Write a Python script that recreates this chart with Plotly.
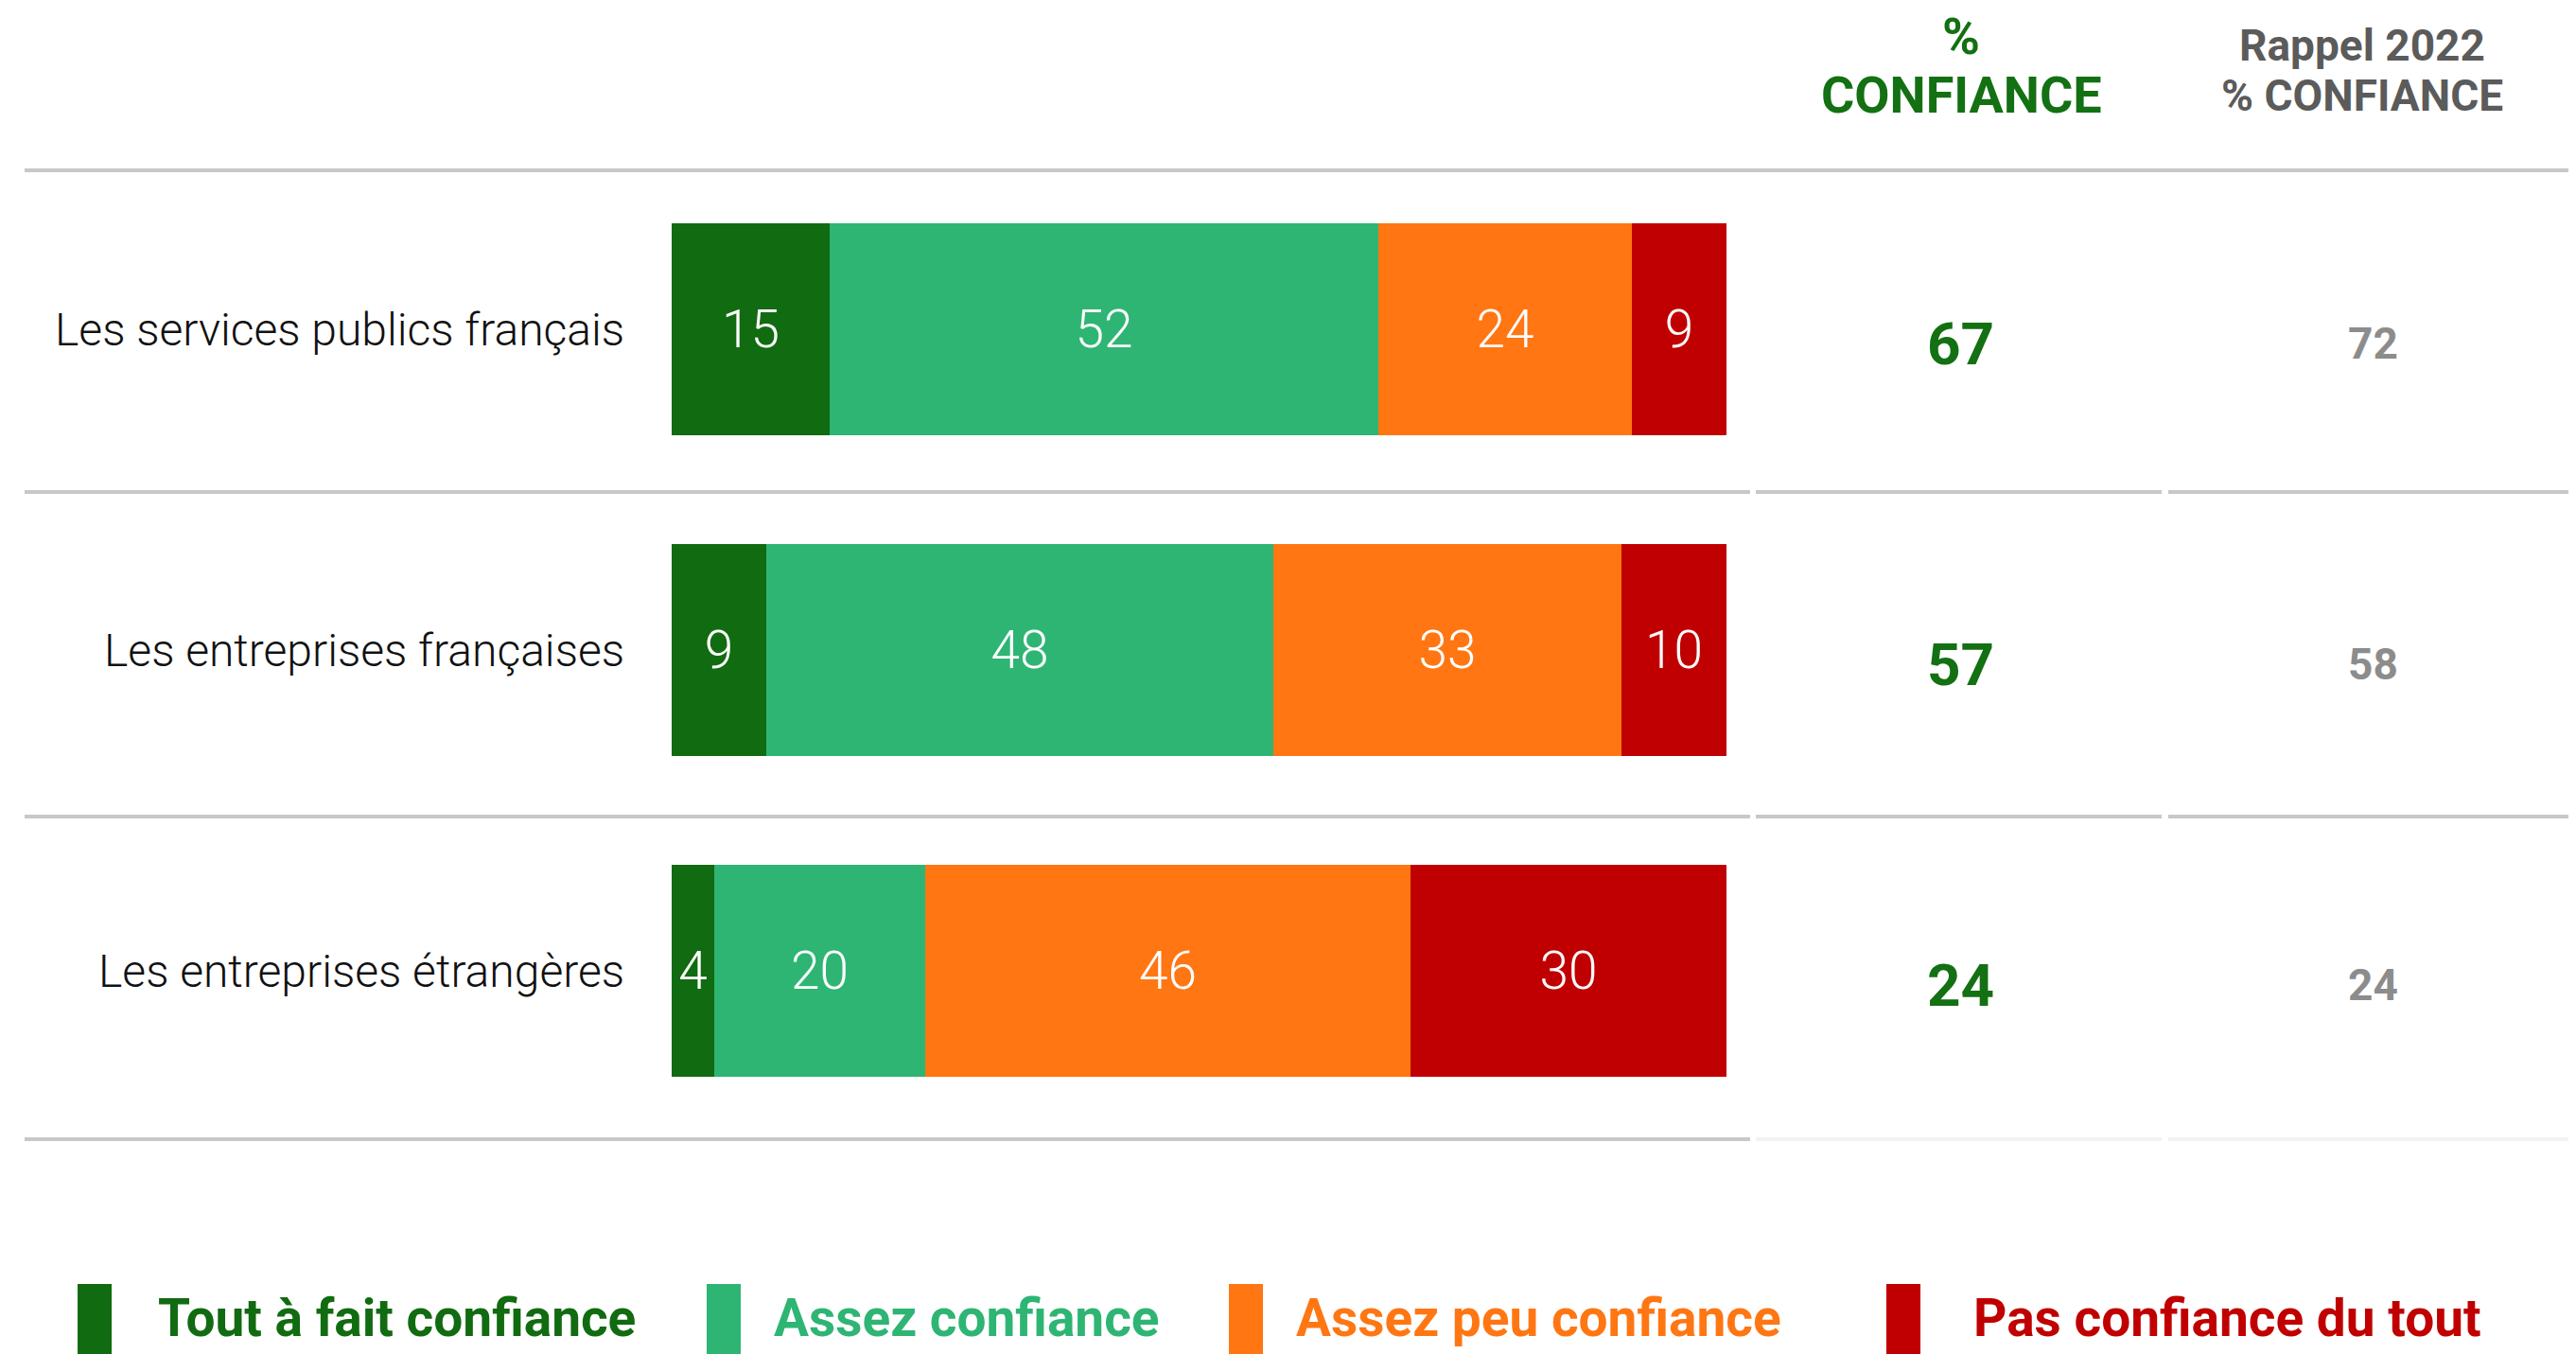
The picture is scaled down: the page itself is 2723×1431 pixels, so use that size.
import plotly.graph_objects as go

categories = ["Les services publics français", "Les entreprises françaises", "Les entreprises étrangères"]
series_names = ["Tout à fait confiance", "Assez confiance", "Assez peu confiance", "Pas confiance du tout"]
tout_a_fait = [15, 9, 4]
assez = [52, 48, 20]
assez_peu = [24, 33, 46]
pas_du_tout = [9, 10, 30]
confiance = [67, 57, 24]
rappel_2022 = [72, 58, 24]
header_conf = ["%", "CONFIANCE"]
header_rappel = ["Rappel 2022", "% CONFIANCE"]

colors = ["#116B10", "#2EB574", "#FF7613", "#C00000"]

W, H = 2723, 1431
OFF = 8  # page body margin
FW, FH = W - OFF, H - OFF
def px(x):
    return (x - OFF) / FW
def py(y):
    return 1 - (y - OFF) / FH

FONT = "Roboto"
fig = go.Figure()
for name, vals, col in zip(series_names, [tout_a_fait, assez, assez_peu, pas_du_tout], colors):
    fig.add_trace(go.Bar(
        y=categories, x=vals, name=name, orientation="h",
        marker=dict(color=col, line=dict(width=0)),
        width=0.661,
        text=vals, texttemplate="%{text}", textposition="inside",
        insidetextanchor="middle", constraintext="none", textangle=0,
        textfont=dict(family=FONT, size=55, color="white", weight=300),
        hoverinfo="skip", showlegend=False,
    ))

top_px, bot_px = 179, 1204
c0, step = 348, 339
y_top = 0 - (c0 - top_px) / step
y_bot = 2 + (bot_px - (c0 + 2 * step)) / step

fig.update_layout(
    width=FW, height=FH, margin=dict(l=0, r=0, t=0, b=0),
    paper_bgcolor="white", plot_bgcolor="white",
    barmode="stack", bargap=0,
    xaxis=dict(domain=[px(710), px(1825)], range=[0, 100], visible=False, fixedrange=True),
    yaxis=dict(domain=[py(bot_px), py(top_px)], range=[y_bot, y_top], visible=False,
               type="category", categoryorder="array", categoryarray=categories),
    font=dict(family=FONT),
)

shapes = []
line_col = "#C8C8C8"
shapes.append(dict(type="line", xref="paper", yref="paper", x0=px(26), x1=px(W + 10), y0=py(180), y1=py(180),
                   line=dict(color=line_col, width=4)))
for ypix, rc in [(520, line_col), (863, line_col), (1204, "#F2F2F2")]:
    shapes.append(dict(type="line", xref="paper", yref="paper", x0=px(26), x1=px(1850), y0=py(ypix), y1=py(ypix),
                       line=dict(color=line_col, width=4)))
    shapes.append(dict(type="line", xref="paper", yref="paper", x0=px(1856), x1=px(2285), y0=py(ypix), y1=py(ypix),
                       line=dict(color=rc, width=4)))
    shapes.append(dict(type="line", xref="paper", yref="paper", x0=px(2292), x1=px(W + 10), y0=py(ypix), y1=py(ypix),
                       line=dict(color=rc, width=4)))

annotations = []
for cat in categories:
    annotations.append(dict(xref="paper", yref="y", x=px(662), y=cat, text=cat, showarrow=False,
                            xanchor="right", yanchor="middle",
                            font=dict(family=FONT, size=48, color="#111111", weight=300)))
for cat, v, r in zip(categories, confiance, rappel_2022):
    annotations.append(dict(xref="paper", yref="y", x=px(2072), y=cat, yshift=-15, text=str(v), showarrow=False,
                            xanchor="center", yanchor="middle",
                            font=dict(family=FONT, size=62, color="#137013", weight="bold")))
    annotations.append(dict(xref="paper", yref="y", x=px(2508), y=cat, yshift=-15, text=str(r), showarrow=False,
                            xanchor="center", yanchor="middle",
                            font=dict(family=FONT, size=46, color="#8C8C8C", weight="bold")))

for txt, ycen in zip(header_conf, [38, 100]):
    annotations.append(dict(xref="paper", yref="paper", x=px(2073), y=py(ycen), text=txt, showarrow=False,
                            xanchor="center", yanchor="middle",
                            font=dict(family=FONT, size=54, color="#137013", weight="bold")))
for txt, ycen in zip(header_rappel, [48, 101]):
    annotations.append(dict(xref="paper", yref="paper", x=px(2497), y=py(ycen), text=txt, showarrow=False,
                            xanchor="center", yanchor="middle",
                            font=dict(family=FONT, size=46, color="#5B5B5B", weight="bold")))

legend_rect_x = [82, 747, 1299, 1994]
legend_text_x = [165, 816, 1368, 2084]
for name, col, rx, tx in zip(series_names, colors, legend_rect_x, legend_text_x):
    shapes.append(dict(type="rect", xref="paper", yref="paper", x0=px(rx), x1=px(rx + 36),
                       y0=py(1357), y1=py(1445), fillcolor=col, line=dict(width=0)))
    annotations.append(dict(xref="paper", yref="paper", x=px(tx), y=py(1393), text=name, showarrow=False,
                            xanchor="left", yanchor="middle",
                            font=dict(family=FONT, size=55, color=col, weight="bold")))

fig.update_layout(shapes=shapes, annotations=annotations)
fig.write_html("out.html")
